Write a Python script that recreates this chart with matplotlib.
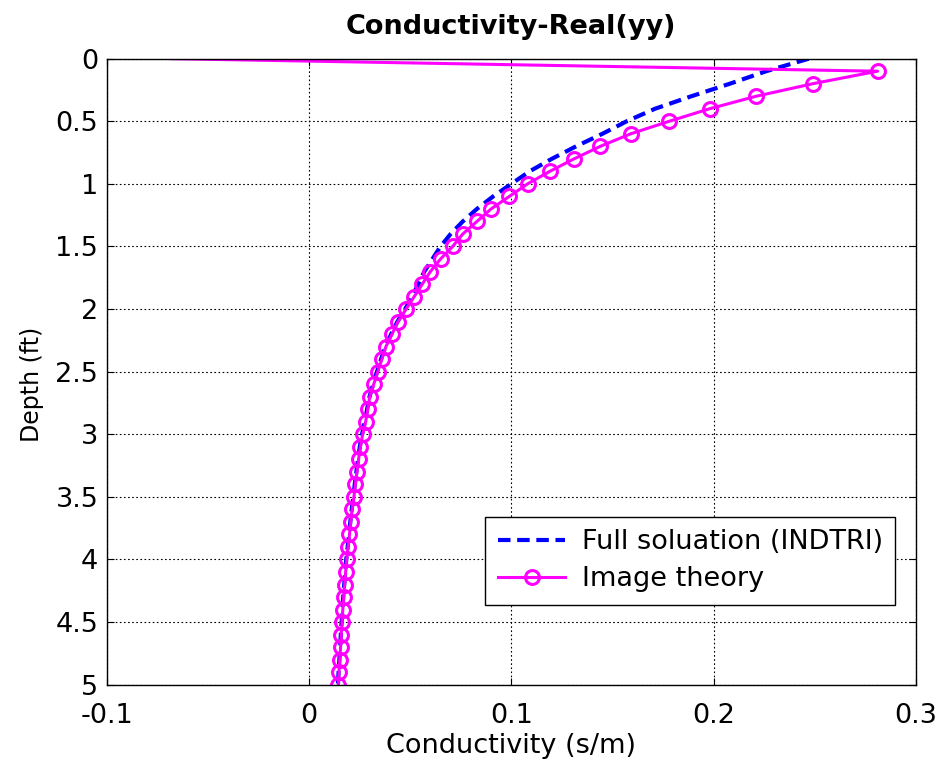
import numpy as np
import matplotlib
matplotlib.use('Agg')
import matplotlib.pyplot as plt

plt.rcParams['font.family'] = ['DejaVu Sans']

# depth (ft) sampled every 0.1 ft
depth = [0.0, 0.1, 0.2, 0.3, 0.4, 0.5, 0.6, 0.7, 0.8, 0.9,
         1.0, 1.1, 1.2, 1.3, 1.4, 1.5, 1.6, 1.7, 1.8, 1.9,
         2.0, 2.1, 2.2, 2.3, 2.4, 2.5, 2.6, 2.7, 2.8, 2.9,
         3.0, 3.1, 3.2, 3.3, 3.4, 3.5, 3.6, 3.7, 3.8, 3.9,
         4.0, 4.1, 4.2, 4.3, 4.4, 4.5, 4.6, 4.7, 4.8, 4.9, 5.0]

# full solution (INDTRI)
full_sol = [0.247, 0.226, 0.208, 0.189, 0.171, 0.157, 0.145, 0.132, 0.120, 0.109,
            0.100, 0.091, 0.083, 0.076, 0.070, 0.065, 0.061, 0.057, 0.054, 0.051,
            0.0475, 0.0437, 0.0406, 0.0378, 0.0356, 0.0336, 0.0317, 0.0299, 0.0287, 0.0276,
            0.0262, 0.0251, 0.0242, 0.0234, 0.0226, 0.0219, 0.0211, 0.0204, 0.0198, 0.0191,
            0.0184, 0.0179, 0.0174, 0.0169, 0.0165, 0.0161, 0.0157, 0.0154, 0.0150, 0.0146, 0.0143]

# image theory
image_th = [-0.068, 0.281, 0.249, 0.221, 0.198, 0.178, 0.159, 0.144, 0.131, 0.119,
            0.108, 0.099, 0.090, 0.083, 0.076, 0.071, 0.065, 0.060, 0.056, 0.052,
            0.048, 0.044, 0.041, 0.038, 0.036, 0.034, 0.032, 0.030, 0.029, 0.028,
            0.0265, 0.0254, 0.0245, 0.0237, 0.0229, 0.0222, 0.0213, 0.0206, 0.0200, 0.0193,
            0.0186, 0.0181, 0.0176, 0.0171, 0.0167, 0.0163, 0.0159, 0.0156, 0.0152, 0.0148, 0.0145]

xticks = [-0.1, 0, 0.1, 0.2, 0.3]
xticklabels = ['-0.1', '0', '0.1', '0.2', '0.3']
yticks = [0, 0.5, 1, 1.5, 2, 2.5, 3, 3.5, 4, 4.5, 5]
yticklabels = ['0', '0.5', '1', '1.5', '2', '2.5', '3', '3.5', '4', '4.5', '5']

fig = plt.figure(figsize=(9.45, 7.67), dpi=100)
ax = fig.add_axes([0.1129, 0.1073, 0.8564, 0.8162])

ax.plot(full_sol, depth, color='#0000ff', linestyle=(0, (3.0, 1.6)), linewidth=3.0,
        label='Full soluation (INDTRI)')
ax.plot(image_th, depth, color='#ff00ff', linewidth=2.2, marker='o', markersize=10,
        markerfacecolor='none', markeredgewidth=2.2, markevery=list(range(1, len(depth))),
        label='Image theory')

ax.set_xlim(-0.1, 0.3)
ax.set_ylim(5, 0)
ax.set_xticks(xticks)
ax.set_xticklabels(xticklabels)
ax.set_yticks(yticks)
ax.set_yticklabels(yticklabels)
ax.tick_params(direction='in', top=True, right=True, labelsize=19.5, length=5)
ax.tick_params(axis='x', pad=13)
ax.tick_params(axis='y', pad=6)
ax.grid(True, color='black', linestyle=(0, (1.5, 2.2)), linewidth=0.8)
for s in ax.spines.values():
    s.set_linewidth(1.0)

ax.set_title('Conductivity-Real(yy)', fontsize=19.5, fontweight='bold', pad=18)
ax.set_xlabel('Conductivity (s/m)', fontsize=19.5, labelpad=3)
ax.set_ylabel('Depth (ft)', fontsize=17)
ax.yaxis.set_label_coords(-0.078, 0.48)

leg = ax.legend(loc='upper right', bbox_to_anchor=(0.974, 0.268), borderaxespad=0,
                fontsize=19.5, fancybox=False, edgecolor='black', framealpha=1,
                handlelength=2.5, borderpad=0.45, labelspacing=0.42, handletextpad=0.6)
leg.get_frame().set_linewidth(1.0)

fig.savefig('out.png', dpi=100)
